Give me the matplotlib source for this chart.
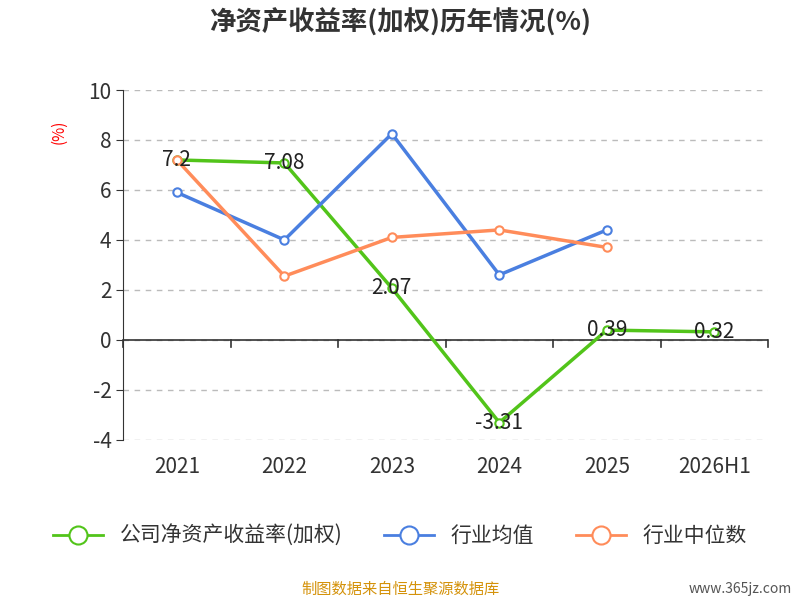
import matplotlib.pyplot as plt
import numpy as np

plt.rcParams['font.family'] = ['Noto Sans CJK SC', 'DejaVu Sans']
plt.rcParams['axes.unicode_minus'] = False

years = ["2021", "2022", "2023", "2024", "2025", "2026H1"]
company_roe = [7.2, 7.08, 2.07, -3.31, 0.39, 0.32]
industry_avg = [5.9, 4.0, 8.25, 2.6, 4.4]
industry_median = [7.2, 2.55, 4.1, 4.4, 3.7]

fig = plt.figure(figsize=(8, 6), dpi=100)
ax = fig.add_axes([0.154, 0.267, 0.806, 0.583])

x = np.arange(len(years))
green, blue, orange = "#52c41a", "#4a7fe0", "#ff8c5a"
mk = dict(marker="o", markersize=6, markerfacecolor="white", markeredgewidth=1.5, linewidth=2.5)
ax.plot(x, company_roe, color=green, zorder=3, **mk)
ax.plot(x[:len(industry_avg)], industry_avg, color=blue, zorder=3, **mk)
ax.plot(x[:len(industry_median)], industry_median, color=orange, zorder=3, **mk)

for xi, v in zip(x, company_roe):
    ax.text(xi, v, f"{v:g}", ha="center", va="center", fontsize=15, color="#222222", zorder=4)

ax.set_xlim(-0.5, len(years) - 0.5)
ax.set_ylim(-4, 10)
ax.set_yticks(range(-4, 11, 2))
ax.tick_params(axis="y", labelsize=15, colors="#333333", length=5)
ax.grid(axis="y", linestyle=(0, (4, 4)), color="#bbbbbb", linewidth=1)
for s in ["top", "right", "bottom"]:
    ax.spines[s].set_visible(False)
ax.spines["left"].set_color("#333333")

# zero baseline with category boundary ticks
ax.axhline(0, color="#333333", linewidth=1.2, zorder=2)
for b in np.arange(-0.5, len(years), 1):
    ax.plot([b, b], [0, -0.3], color="#333333", linewidth=1.2, clip_on=False)
ax.set_xticks(x)
ax.set_xticklabels(years)
ax.tick_params(axis="x", length=0, labelsize=15, colors="#333333", pad=12)

ax.text(-0.1, 0.88, "(%)", transform=ax.transAxes, rotation=90, color="red",
        fontsize=11, ha="center", va="center")

fig.text(0.5, 0.962, "净资产收益率(加权)历年情况(%)", ha="center", va="center",
         fontsize=19, fontweight="bold", color="#333333")

handles = [plt.Line2D([], [], color=c, marker="o", markersize=13, markerfacecolor="white",
                      markeredgewidth=1.5, linewidth=2) for c in (green, blue, orange)]
fig.legend(handles, ["公司净资产收益率(加权)", "行业均值", "行业中位数"], loc="center",
           bbox_to_anchor=(0.5, 0.107), ncol=3, frameon=False, fontsize=15,
           handlelength=2.4, columnspacing=2.0, labelcolor="#333333")

fig.text(0.5, 0.018, "制图数据来自恒生聚源数据库", ha="center", va="center",
         fontsize=11, color="#d4920a")
fig.text(0.99, 0.018, "www.365jz.com", ha="right", va="center", fontsize=10, color="#555555")

fig.savefig("out.png")
